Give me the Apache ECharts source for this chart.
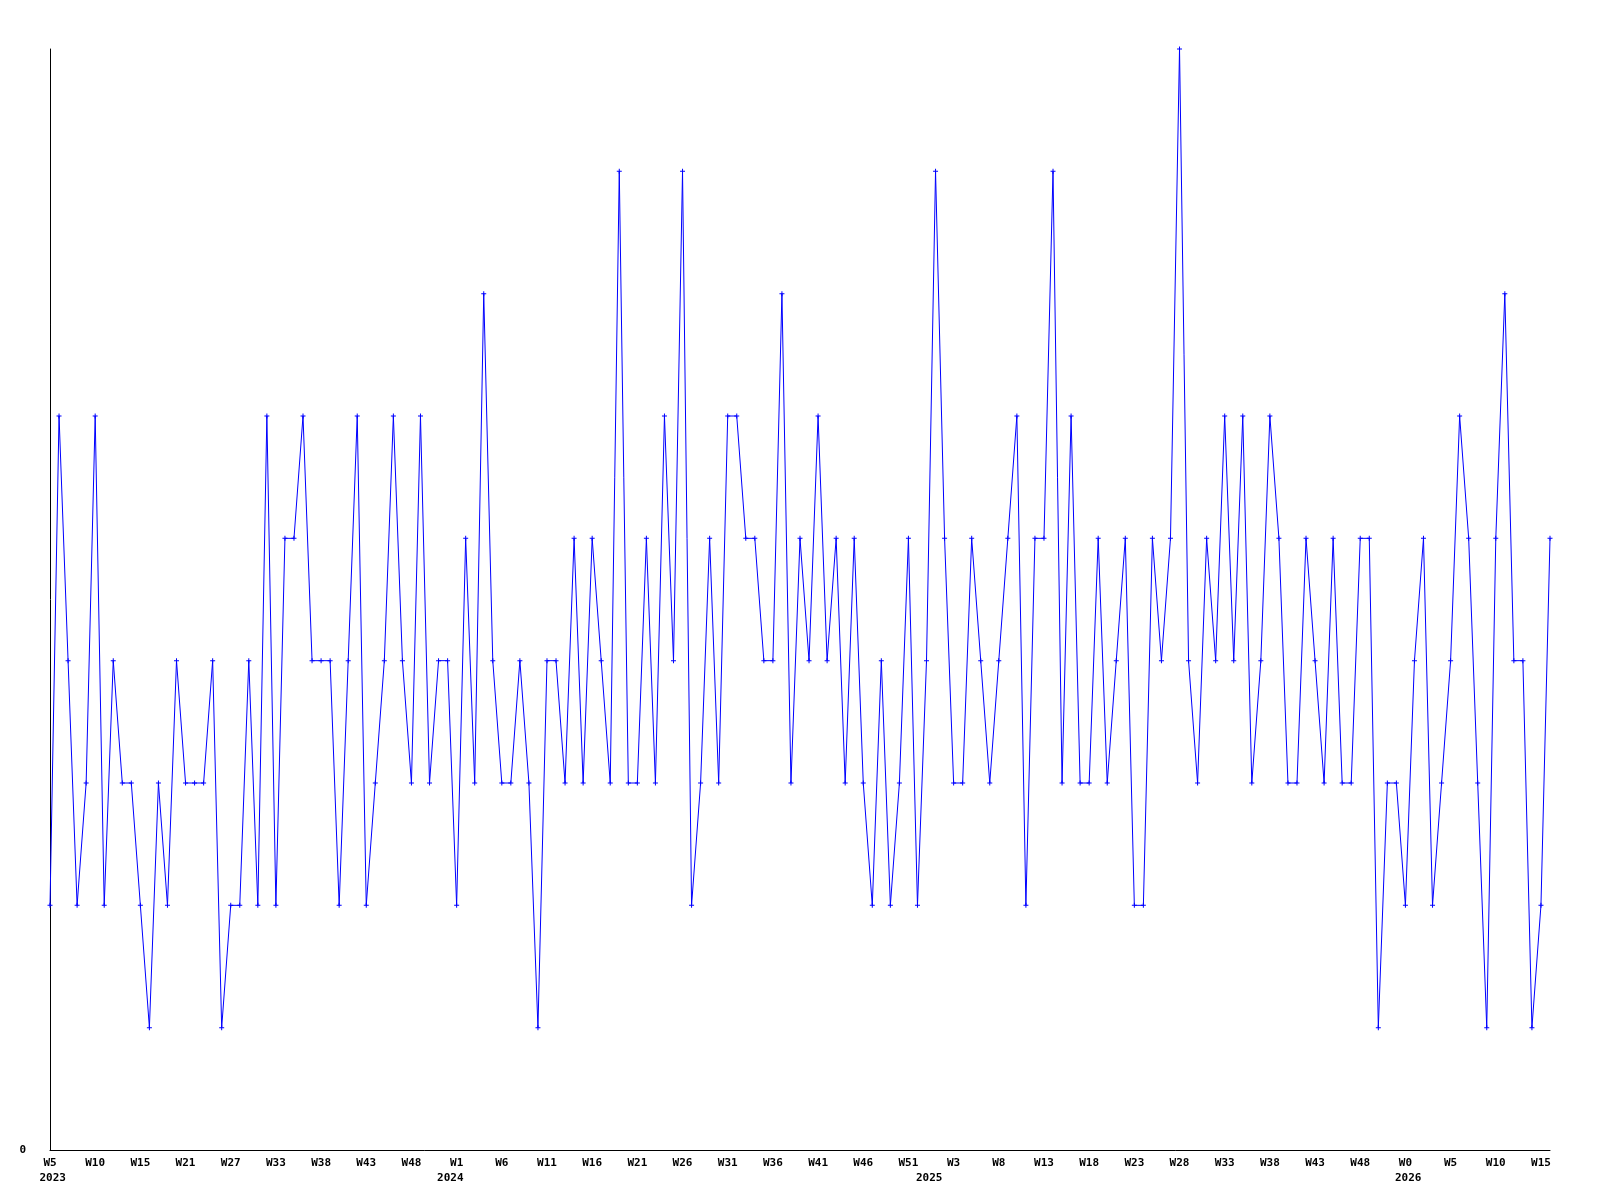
<!DOCTYPE html>
<html>
<head>
<meta charset="utf-8">
<script src="https://cdn.jsdelivr.net/npm/echarts@6/dist/echarts.min.js"></script>
<style>html,body{margin:0;padding:0;background:#fff}#c{width:1600px;height:1200px}</style>
</head>
<body>
<div id="c"></div>
<script>
// Weekly values, 2023 W5 .. 2026 W15 (167 weeks)
const values = [
  2,6,4,2,3,6,2,4,3,3,2,1,3,2,4,3,3,3,4,1,2,2,4,2,6,2,5,5,
  6,4,4,4,2,4,6,2,3,4,6,4,3,6,3,4,4,2,5,3,7,4,3,3,4,3,1,4,
  4,3,5,3,5,4,3,8,3,3,5,3,6,4,8,2,3,5,3,6,6,5,5,4,4,7,3,5,
  4,6,4,5,3,5,3,2,4,2,3,5,2,4,8,5,3,3,5,4,3,4,5,6,2,5,5,
  8,3,6,3,3,5,3,4,5,2,2,5,4,5,9,4,3,5,4,6,4,6,3,4,6,5,3,3,
  5,4,3,5,3,3,5,5,1,3,3,2,4,5,2,3,4,6,5,3,1,5,7,4,4,1,2,5
];
// Week tick labels, one every 5 weeks
const tickLabels = ['W5','W10','W15','W21','W27','W33','W38','W43','W48','W1','W6','W11','W16','W21','W26','W31','W36','W41','W46','W51','W3','W8','W13','W18','W23','W28','W33','W38','W43','W48','W0','W5','W10','W15'];
// Year tick labels and where they sit (in week-index units)
const yearLabels = ['2023','2024','2025','2026'];
const yearTickAt = [0.3, 44.3, 97.3, 150.3];
const yTickLabels = ['0'];

const seriesData = values.map((v, i) => [i, v]);
const FONT = '"DejaVu Sans Mono", "Liberation Mono", monospace';
const chart = echarts.init(document.getElementById('c'), null, {renderer: 'canvas'});
const maxX = values.length - 1;
chart.setOption({
  animation: false,
  backgroundColor: '#ffffff',
  grid: {left: 50, right: 50, top: 49, bottom: 50, containLabel: false},
  xAxis: [{
    type: 'value', min: 0, max: maxX, interval: 5,
    splitLine: {show: false},
    axisTick: {show: false},
    axisLine: {show: true, onZero: false, lineStyle: {color: '#000', width: 1}},
    axisLabel: {
      show: true, margin: 6, color: '#000', fontFamily: FONT, fontWeight: 'bold', fontSize: 11, lineHeight: 15,
      showMaxLabel: false,
      formatter: function (v) {
        const k = Math.round(v / 5);
        if (v % 5 !== 0 || k >= tickLabels.length) return '';
        return tickLabels[k];
      }
    }
  }, {
    type: 'value', min: 0, max: maxX, position: 'bottom', offset: 15,
    splitLine: {show: false},
    axisTick: {show: false},
    axisLine: {show: false},
    axisLabel: {
      show: true, margin: 6, color: '#000', fontFamily: FONT, fontWeight: 'bold', fontSize: 11, lineHeight: 15,
      customValues: yearTickAt,
      formatter: function (v) {
        const k = yearTickAt.findIndex(p => Math.abs(p - v) < 1e-6);
        return k >= 0 ? yearLabels[k] : '';
      }
    }
  }],
  yAxis: {
    type: 'value', min: 0, max: 9, interval: 9,
    splitLine: {show: false},
    axisTick: {show: false},
    axisLine: {show: true, lineStyle: {color: '#000', width: 1}},
    axisLabel: {
      show: true, margin: 24, color: '#000', fontFamily: FONT, fontWeight: 'bold', fontSize: 11,
      formatter: function (v) { return v === 0 ? yTickLabels[0] : ''; }
    }
  },
  series: [{
    type: 'line',
    xAxisIndex: 0,
    data: seriesData,
    showSymbol: true,
    symbol: 'path://M2,0h1v2h2v1h-2v2h-1v-2h-2v-1h2z',
    symbolSize: 5,
    itemStyle: {color: '#0000ff'},
    lineStyle: {color: '#0000ff', width: 1},
    emphasis: {disabled: true},
    clip: false
  }]
});
</script>
</body>
</html>
